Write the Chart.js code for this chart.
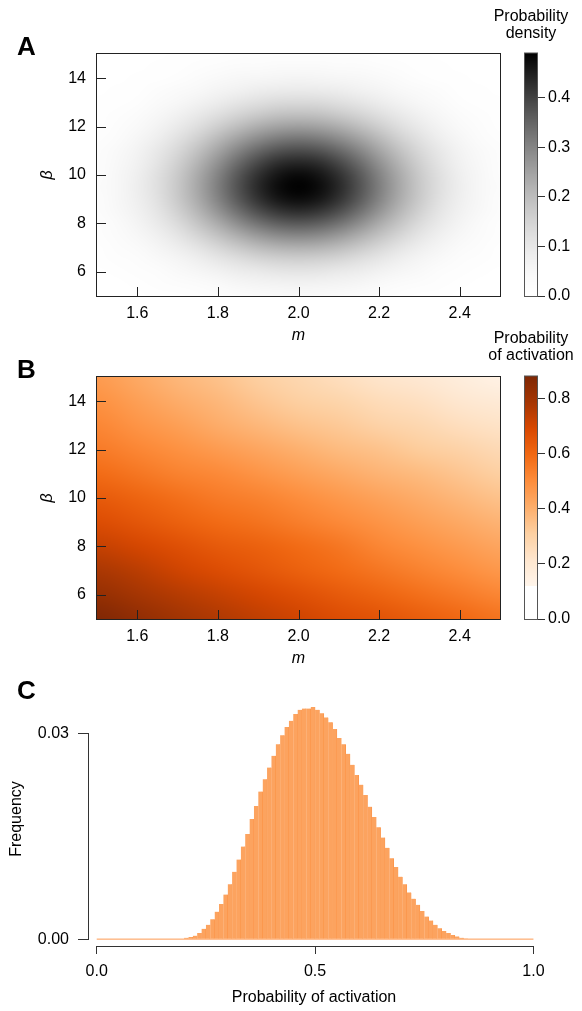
<!DOCTYPE html>
<html>
<head>
<meta charset="utf-8">
<script src="https://cdn.jsdelivr.net/npm/chart.js@4.4.1/dist/chart.umd.min.js"></script>
<style>
  html, body { margin: 0; padding: 0; background: #fff; }
  #wrap { position: relative; width: 582px; height: 1011px; overflow: hidden; }
  canvas { position: absolute; }
</style>
</head>
<body>
<div id="wrap">
  <canvas id="cA" width="510" height="345" style="left:0;top:0"></canvas>
  <canvas id="cbA" width="102" height="320" style="left:480px;top:0"></canvas>
  <canvas id="cB" width="510" height="345" style="left:0;top:323px"></canvas>
  <canvas id="cbB" width="102" height="320" style="left:480px;top:323px"></canvas>
  <canvas id="cC" width="582" height="341" style="left:0;top:670px"></canvas>
</div>
<script>
// ---------- data ----------
// Panel A: joint probability density over (m, beta)
const densityM = [1.50,1.55,1.60,1.65,1.70,1.75,1.80,1.85,1.90,1.95,2.00,2.05,2.10,2.15,2.20,2.25,2.30,2.35,2.40,2.45,2.50];
const densityBeta = [5.0,5.5,6.0,6.5,7.0,7.5,8.0,8.5,9.0,9.5,10.0,10.5,11.0,11.5,12.0,12.5,13.0,13.5,14.0,14.5,15.0];
// one row per beta value (ascending), one column per m value
const density = [
  [0.002,0.004,0.006,0.010,0.014,0.019,0.025,0.030,0.035,0.038,0.039,0.038,0.035,0.030,0.025,0.019,0.014,0.010,0.006,0.004,0.002],
  [0.004,0.007,0.011,0.016,0.024,0.032,0.042,0.051,0.059,0.064,0.066,0.064,0.059,0.051,0.042,0.032,0.024,0.016,0.011,0.007,0.004],
  [0.006,0.011,0.017,0.026,0.038,0.052,0.067,0.082,0.094,0.103,0.106,0.103,0.094,0.082,0.067,0.052,0.038,0.026,0.017,0.011,0.006],
  [0.009,0.016,0.026,0.040,0.057,0.078,0.101,0.123,0.142,0.154,0.159,0.154,0.142,0.123,0.101,0.078,0.057,0.040,0.026,0.016,0.009],
  [0.013,0.023,0.037,0.056,0.081,0.110,0.142,0.174,0.200,0.218,0.224,0.218,0.200,0.174,0.142,0.110,0.081,0.056,0.037,0.023,0.013],
  [0.018,0.030,0.048,0.074,0.107,0.146,0.188,0.230,0.265,0.289,0.297,0.289,0.265,0.230,0.188,0.146,0.107,0.074,0.048,0.030,0.018],
  [0.022,0.037,0.060,0.092,0.133,0.182,0.234,0.286,0.330,0.359,0.369,0.359,0.330,0.286,0.234,0.182,0.133,0.092,0.060,0.037,0.022],
  [0.025,0.044,0.070,0.107,0.155,0.212,0.274,0.334,0.385,0.419,0.431,0.419,0.385,0.334,0.274,0.212,0.155,0.107,0.070,0.044,0.025],
  [0.028,0.048,0.077,0.118,0.171,0.233,0.301,0.367,0.423,0.461,0.474,0.461,0.423,0.367,0.301,0.233,0.171,0.118,0.077,0.048,0.028],
  [0.029,0.049,0.080,0.122,0.176,0.241,0.311,0.379,0.437,0.475,0.489,0.475,0.437,0.379,0.311,0.241,0.176,0.122,0.080,0.049,0.029],
  [0.028,0.048,0.078,0.119,0.172,0.235,0.303,0.370,0.426,0.463,0.477,0.463,0.426,0.370,0.303,0.235,0.172,0.119,0.078,0.048,0.028],
  [0.026,0.045,0.072,0.110,0.159,0.217,0.280,0.342,0.394,0.429,0.441,0.429,0.394,0.342,0.280,0.217,0.159,0.110,0.072,0.045,0.026],
  [0.023,0.039,0.063,0.097,0.140,0.191,0.246,0.301,0.346,0.377,0.388,0.377,0.346,0.301,0.246,0.191,0.140,0.097,0.063,0.039,0.023],
  [0.019,0.033,0.053,0.081,0.117,0.159,0.206,0.251,0.289,0.315,0.324,0.315,0.289,0.251,0.206,0.159,0.117,0.081,0.053,0.033,0.019],
  [0.015,0.026,0.042,0.064,0.092,0.126,0.163,0.199,0.229,0.249,0.256,0.249,0.229,0.199,0.163,0.126,0.092,0.064,0.042,0.026,0.015],
  [0.011,0.020,0.031,0.048,0.070,0.095,0.123,0.150,0.172,0.188,0.193,0.188,0.172,0.150,0.123,0.095,0.070,0.048,0.031,0.020,0.011],
  [0.008,0.014,0.022,0.034,0.050,0.068,0.088,0.107,0.123,0.134,0.138,0.134,0.123,0.107,0.088,0.068,0.050,0.034,0.022,0.014,0.008],
  [0.006,0.009,0.015,0.023,0.034,0.046,0.059,0.072,0.083,0.091,0.093,0.091,0.083,0.072,0.059,0.046,0.034,0.023,0.015,0.009,0.006],
  [0.004,0.006,0.010,0.015,0.022,0.030,0.038,0.047,0.054,0.058,0.060,0.058,0.054,0.047,0.038,0.030,0.022,0.015,0.010,0.006,0.004],
  [0.002,0.004,0.006,0.009,0.013,0.018,0.024,0.029,0.033,0.036,0.037,0.036,0.033,0.029,0.024,0.018,0.013,0.009,0.006,0.004,0.002],
  [0.001,0.002,0.004,0.005,0.008,0.011,0.014,0.017,0.019,0.021,0.022,0.021,0.019,0.017,0.014,0.011,0.008,0.005,0.004,0.002,0.001]
];

// Panel B: probability of activation over (m, beta)
const activationM = [1.5,1.6,1.7,1.8,1.9,2.0,2.1,2.2,2.3,2.4,2.5];
const activationBeta = [5,6,7,8,9,10,11,12,13,14,15];
const activation = [
  [0.88,0.84,0.80,0.77,0.74,0.71,0.68,0.66,0.63,0.60,0.57],
  [0.83,0.79,0.76,0.73,0.70,0.67,0.64,0.61,0.58,0.55,0.52],
  [0.78,0.75,0.71,0.68,0.65,0.62,0.59,0.56,0.53,0.50,0.47],
  [0.73,0.70,0.67,0.64,0.62,0.59,0.56,0.52,0.49,0.46,0.43],
  [0.68,0.65,0.62,0.59,0.57,0.54,0.51,0.48,0.45,0.42,0.39],
  [0.64,0.61,0.58,0.55,0.53,0.50,0.47,0.44,0.41,0.38,0.35],
  [0.59,0.56,0.53,0.51,0.48,0.45,0.42,0.39,0.37,0.34,0.31],
  [0.55,0.52,0.49,0.46,0.43,0.40,0.37,0.35,0.32,0.30,0.27],
  [0.52,0.48,0.45,0.41,0.38,0.35,0.33,0.30,0.28,0.25,0.23],
  [0.49,0.45,0.41,0.38,0.34,0.31,0.29,0.26,0.24,0.21,0.19],
  [0.46,0.42,0.38,0.35,0.31,0.28,0.25,0.22,0.20,0.17,0.14]
];

// Panel C: histogram of activation probability, 100 bins of width 0.01 on [0, 1]
const binWidth = 0.01;
const frequency = [
  0,0,0,0,0,0,0,0,0,0, 0,0,0,0,0,0,0,0,0,0,
  0.0002,0.0003,0.0005,0.0009,0.0015,0.0021,0.0029,0.0040,0.0051,0.0065,
  0.0080,0.0098,0.0116,0.0135,0.0153,0.0175,0.0194,0.0215,0.0233,0.0250,
  0.0267,0.0284,0.0297,0.0309,0.0318,0.0328,0.0334,0.0336,0.0336,0.0338,
  0.0334,0.0329,0.0323,0.0316,0.0306,0.0293,0.0284,0.0270,0.0254,0.0239,
  0.0225,0.0210,0.0193,0.0178,0.0163,0.0148,0.0133,0.0118,0.0105,0.0091,
  0.0080,0.0068,0.0059,0.0050,0.0041,0.0033,0.0027,0.0021,0.0016,0.0012,
  0.0009,0.0006,0.0004,0.0002,0.0001,0,0,0,0,0,
  0,0,0,0,0,0,0,0,0,0
];

// axis ticks
const mTicks = [1.6, 1.8, 2.0, 2.2, 2.4];
const betaTicks = [6, 8, 10, 12, 14];
const densityTicks = [0.0, 0.1, 0.2, 0.3, 0.4];
const activationTicks = [0.0, 0.2, 0.4, 0.6, 0.8];
const probTicks = [0.0, 0.5, 1.0];
const freqTicks = [0.00, 0.03];

// colour scale limits
const densityMax = 0.489;
const grayGamma = 1.5;
const activationMax = 0.881;
const activationLow = 0.12;
const orangeRamp = ['#fff5eb','#fee6ce','#fdd0a2','#fdae6b','#fd8d3c','#f16913','#d94801','#a63603','#7f2704'];

// ---------- helpers ----------
const FONT = "'Liberation Sans', Arial, Helvetica, sans-serif";
Chart.defaults.font.family = FONT;
Chart.defaults.font.size = 16;
Chart.defaults.color = '#000';

const hexRGB = h => [parseInt(h.slice(1,3),16), parseInt(h.slice(3,5),16), parseInt(h.slice(5,7),16)];
const rampRGB = orangeRamp.map(hexRGB);

function grayRGB(v) {
  const t = Math.min(Math.max(v / densityMax, 0), 1);
  const c = Math.round(255 * (1 - Math.pow(t, grayGamma)));
  return [c, c, c];
}
function orangeRGB(v) {
  if (v < activationLow) return [255, 255, 255];
  let t = (v - activationLow) / (activationMax - activationLow) * (rampRGB.length - 1);
  t = Math.min(Math.max(t, 0), rampRGB.length - 1);
  const i = Math.min(Math.floor(t), rampRGB.length - 2), f = t - i;
  return rampRGB[i].map((c, k) => Math.round(c + (rampRGB[i + 1][k] - c) * f));
}
const rgbStr = c => `rgb(${c[0]},${c[1]},${c[2]})`;

// paints a value grid into the plot area, positioned by the chart scales
function heatLayer(xs, ys, rows, toRGB) {
  return {
    id: 'heatLayer',
    beforeDatasetsDraw(chart) {
      const { ctx, chartArea: a, scales: { x, y } } = chart;
      const nx = xs.length, ny = ys.length;
      const off = document.createElement('canvas');
      off.width = nx; off.height = ny;
      const octx = off.getContext('2d');
      const img = octx.createImageData(nx, ny);
      for (let j = 0; j < ny; j++) {
        for (let i = 0; i < nx; i++) {
          const [r, g, b] = toRGB(rows[j][i]);
          const k = ((ny - 1 - j) * nx + i) * 4;
          img.data[k] = r; img.data[k + 1] = g; img.data[k + 2] = b; img.data[k + 3] = 255;
        }
      }
      octx.putImageData(img, 0, 0);
      const dx = (xs[nx - 1] - xs[0]) / (nx - 1), dy = (ys[ny - 1] - ys[0]) / (ny - 1);
      const x0 = x.getPixelForValue(xs[0] - dx / 2), x1 = x.getPixelForValue(xs[nx - 1] + dx / 2);
      const y0 = y.getPixelForValue(ys[ny - 1] + dy / 2), y1 = y.getPixelForValue(ys[0] - dy / 2);
      ctx.save();
      ctx.beginPath();
      ctx.rect(a.left, a.top, a.right - a.left, a.bottom - a.top);
      ctx.clip();
      ctx.imageSmoothingEnabled = true;
      ctx.imageSmoothingQuality = 'high';
      ctx.drawImage(off, x0, y0, x1 - x0, y1 - y0);
      ctx.restore();
    }
  };
}

// box around the plot with inward tick marks
const framePlugin = {
  id: 'frame',
  afterDraw(chart) {
    const { ctx, chartArea: a, scales: { x, y } } = chart;
    ctx.save();
    ctx.strokeStyle = '#222';
    ctx.lineWidth = 1;
    ctx.strokeRect(a.left - 0.5, a.top - 0.5, a.right - a.left + 1, a.bottom - a.top + 1);
    ctx.beginPath();
    x.ticks.forEach(t => {
      const p = Math.round(x.getPixelForValue(t.value)) + 0.5;
      ctx.moveTo(p, a.bottom); ctx.lineTo(p, a.bottom - 9);
    });
    y.ticks.forEach(t => {
      const p = Math.round(y.getPixelForValue(t.value)) + 0.5;
      ctx.moveTo(a.left, p); ctx.lineTo(a.left + 9, p);
    });
    ctx.stroke();
    ctx.restore();
  }
};

function panelLetter(text, px, py) {
  return {
    id: 'panelLetter',
    afterDraw(chart) {
      const ctx = chart.ctx;
      ctx.save();
      ctx.font = `bold 26px ${FONT}`;
      ctx.fillStyle = '#000';
      ctx.textAlign = 'left';
      ctx.textBaseline = 'alphabetic';
      ctx.fillText(text, px, py);
      ctx.restore();
    }
  };
}

const fixedTicks = list => axis => { axis.ticks = list.map(v => ({ value: v })); };

function heatmapChart(id, xs, ys, rows, toRGB, letter) {
  return new Chart(document.getElementById(id), {
    type: 'scatter',
    data: { datasets: [] },
    options: {
      responsive: false, animation: false, devicePixelRatio: 1, events: [],
      layout: { padding: { top: 54, right: 10, bottom: 0, left: 0 } },
      plugins: { legend: { display: false }, tooltip: { enabled: false } },
      scales: {
        x: {
          type: 'linear', min: 1.5, max: 2.5,
          afterBuildTicks: fixedTicks(mTicks),
          afterFit: s => { s.height = 49; },
          grid: { display: false, drawTicks: false },
          border: { display: false },
          ticks: { padding: 8, autoSkip: false, maxRotation: 0, callback: v => v.toFixed(1) },
          title: { display: true, text: 'm', font: { size: 16, style: 'italic' }, padding: { top: 0, bottom: 0 } }
        },
        y: {
          type: 'linear', min: 5, max: 15,
          afterBuildTicks: fixedTicks(betaTicks),
          afterFit: s => { s.width = 97; },
          grid: { display: false, drawTicks: false },
          border: { display: false },
          ticks: { padding: 11, autoSkip: false, callback: v => String(v) },
          title: { display: true, text: 'β', font: { size: 16, style: 'italic' }, padding: { top: 38.4, bottom: 0 } }
        }
      }
    },
    plugins: [heatLayer(xs, ys, rows, toRGB), framePlugin, panelLetter(letter, 17, 55)]
  });
}

function colorbarChart(id, max, tickList, toRGB, caption, baselines) {
  return new Chart(document.getElementById(id), {
    type: 'scatter',
    data: { datasets: [] },
    options: {
      responsive: false, animation: false, devicePixelRatio: 1, events: [],
      layout: { padding: { top: 53.5, right: 0, bottom: 24, left: 45 } },
      plugins: { legend: { display: false }, tooltip: { enabled: false } },
      scales: {
        x: { type: 'linear', display: false, min: 0, max: 1 },
        y: {
          type: 'linear', position: 'right', min: 0, max: max,
          afterBuildTicks: fixedTicks(tickList),
          afterFit: s => { s.width = 45; },
          grid: { display: true, drawOnChartArea: false, drawTicks: true, tickLength: 8, color: '#333', lineWidth: 1 },
          border: { display: false },
          ticks: { padding: 3, autoSkip: false, callback: v => v.toFixed(1) }
        }
      }
    },
    plugins: [{
      id: 'colorbar',
      beforeDatasetsDraw(chart) {
        const { ctx, chartArea: a, scales: { y } } = chart;
        // one thin band per pixel row, coloured by the value at that height
        ctx.save();
        for (let py = Math.floor(a.top); py < a.bottom; py++) {
          const v = y.getValueForPixel(py + 0.5);
          ctx.fillStyle = rgbStr(toRGB(v));
          ctx.fillRect(a.left, py, a.right - a.left, 1);
        }
        ctx.strokeStyle = '#555';
        ctx.lineWidth = 1;
        ctx.strokeRect(a.left - 0.5, a.top - 0.5, a.right - a.left + 1, a.bottom - a.top + 1);
        ctx.restore();
      },
      afterDraw(chart) {
        const ctx = chart.ctx;
        ctx.save();
        ctx.font = `16px ${FONT}`;
        ctx.fillStyle = '#000';
        ctx.textAlign = 'center';
        ctx.textBaseline = 'alphabetic';
        caption.forEach((t, i) => ctx.fillText(t, 51, baselines[i]));
        ctx.restore();
      }
    }]
  });
}

// ---------- panel A ----------
heatmapChart('cA', densityM, densityBeta, density, grayRGB, 'A');
colorbarChart('cbA', densityMax, densityTicks, grayRGB, ['Probability', 'density'], [20.8, 38.3]);

// ---------- panel B ----------
heatmapChart('cB', activationM, activationBeta, activation, orangeRGB, 'B');
colorbarChart('cbB', activationMax, activationTicks, orangeRGB, ['Probability', 'of activation'], [19.6, 37.1]);

// ---------- panel C ----------
const rAxes = {
  id: 'rAxes',
  afterDraw(chart) {
    const { ctx, chartArea: a, scales: { x, y } } = chart;
    const al = p => Math.round(p - 0.5) + 0.5;
    ctx.save();
    ctx.strokeStyle = '#333';
    ctx.lineWidth = 1;
    ctx.beginPath();
    const ax = a.left + 0.5;
    ctx.moveTo(ax, al(y.getPixelForValue(freqTicks[freqTicks.length - 1])) - 0.5);
    ctx.lineTo(ax, al(y.getPixelForValue(freqTicks[0])) + 0.5);
    const ay = a.bottom + 0.5;
    ctx.moveTo(al(x.getPixelForValue(probTicks[0])) - 0.5, ay);
    ctx.lineTo(al(x.getPixelForValue(probTicks[probTicks.length - 1])) + 0.5, ay);
    ctx.stroke();
    ctx.restore();
  }
};

new Chart(document.getElementById('cC'), {
  type: 'bar',
  data: {
    datasets: [
      {
        type: 'line',
        data: [{ x: probTicks[0], y: 0 }, { x: probTicks[probTicks.length - 1], y: 0 }],
        borderColor: '#fd9a52', borderWidth: 1, pointRadius: 0, order: 2
      },
      {
        type: 'bar',
        data: frequency.map((f, i) => ({ x: (i + 0.5) * binWidth, y: f })),
        backgroundColor: '#fca35f',
        borderColor: '#fb8d3d',
        borderWidth: { top: 0, bottom: 0, left: 0, right: 0.6 },
        borderSkipped: false,
        barPercentage: 1, categoryPercentage: 1, order: 1
      }
    ]
  },
  options: {
    responsive: false, animation: false, devicePixelRatio: 1, events: [],
    layout: { padding: { top: 22, right: 42, bottom: 0, left: 0 } },
    plugins: { legend: { display: false }, tooltip: { enabled: false } },
    scales: {
      x: {
        type: 'linear', min: -0.02, max: 1.015, offset: false,
        afterBuildTicks: fixedTicks(probTicks),
        afterFit: s => { s.height = 65; },
        grid: { display: true, offset: false, drawOnChartArea: false, drawTicks: true, tickLength: 8, color: '#333', lineWidth: 1 },
        border: { display: false },
        ticks: { padding: 7.5, autoSkip: false, maxRotation: 0, callback: v => v.toFixed(1) },
        title: { display: true, text: 'Probability of activation', padding: { top: 0, bottom: 3.4 } }
      },
      y: {
        type: 'linear', min: -0.001, max: 0.036,
        afterBuildTicks: fixedTicks(freqTicks),
        afterFit: s => { s.width = 88; },
        grid: { display: true, offset: false, drawOnChartArea: false, drawTicks: true, tickLength: 10, color: '#333', lineWidth: 1 },
        border: { display: false },
        ticks: { padding: 9, autoSkip: false, callback: v => v.toFixed(2) },
        title: { display: true, text: 'Frequency', padding: { top: 7.1, bottom: 0 } }
      }
    }
  },
  plugins: [rAxes, panelLetter('C', 17, 29)]
});
</script>
</body>
</html>
